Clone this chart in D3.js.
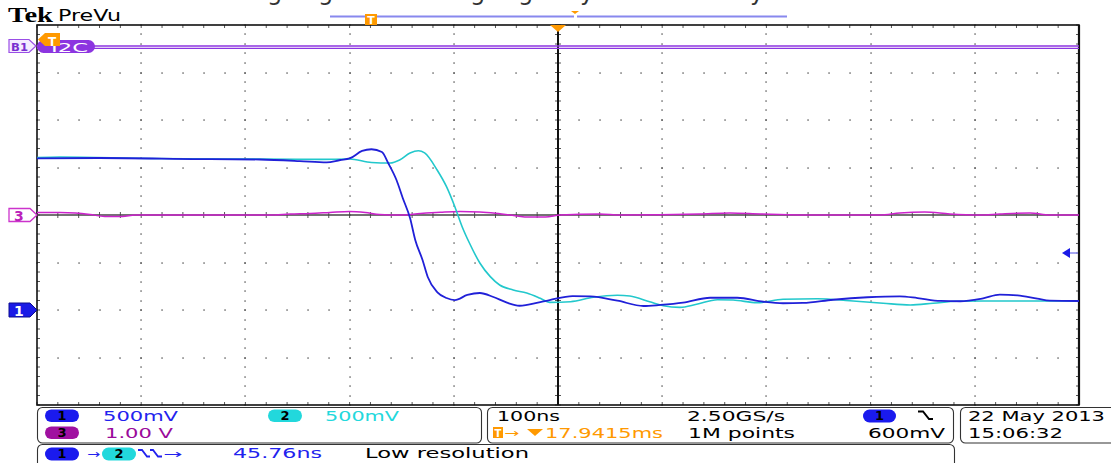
<!DOCTYPE html>
<html><head><meta charset="utf-8">
<script src="https://cdn.jsdelivr.net/npm/d3@7"></script>
<style>html,body{margin:0;padding:0;background:#fff;overflow:hidden}svg{display:block}</style>
</head><body>
<svg id="c" width="1111" height="463"></svg>
<script>
// ---------------- data ----------------
const ch1Time = [-500,-440,-344,-286,-248,-222,-209,-200,-188,-179,-169,-163,-155,-149,-142,-137,-130,-125,-116,-107,-99,-87,-75,-62,-49,-37,-17,-8,14,31,57,82,98,120,146,172,197,216,235,264,297,328,345,367,386,408,424,441,460,472,500];
const ch1Volts = [1.595,1.600,1.589,1.584,1.568,1.553,1.579,1.595,1.674,1.692,1.663,1.547,1.368,1.179,0.968,0.737,0.526,0.347,0.189,0.126,0.105,0.158,0.179,0.137,0.077,0.045,0.084,0.105,0.147,0.144,0.098,0.042,0.053,0.077,0.129,0.129,0.087,0.071,0.074,0.108,0.134,0.144,0.126,0.095,0.092,0.123,0.161,0.155,0.119,0.098,0.095];
const ch2Time = [-500,-478,-392,-296,-228,-200,-179,-161,-152,-142,-134,-128,-116,-107,-99,-92,-85,-75,-65,-56,-43,-30,-17,-8,12,34,57,69,88,101,117,133,153,168,191,216,249,280,312,338,360,383,408,472,500];
const ch2Volts = [1.605,1.611,1.595,1.589,1.586,1.589,1.553,1.547,1.579,1.653,1.677,1.653,1.474,1.298,1.087,0.877,0.705,0.495,0.351,0.263,0.211,0.179,0.123,0.080,0.087,0.134,0.155,0.147,0.087,0.045,0.028,0.060,0.108,0.105,0.077,0.113,0.119,0.098,0.071,0.053,0.071,0.092,0.095,0.095,0.095];
const ch3Time = [-500,-478,-463,-449,-435,-418,-406,-344,-276,-257,-238,-219,-200,-185,-171,-152,-132,-113,-94,-75,-60,-46,-32,-12,2,40,60,136,165,194,232,309,328,352,376,405,424,453,472,500];
const ch3Volts = [0.053,0.053,0.042,0.011,-0.032,-0.032,0,0,0,0.021,0.032,0.053,0.074,0.053,0.011,0,0.032,0.057,0.074,0.063,0.036,0,-0.042,-0.042,0,0.021,0,0.021,0.042,0.021,0,0,0.042,0.063,0.021,0,0.021,0.042,0,0];

const timeDomain = [-500, 500];      // ns (100 ns/div)
const divDomainX = [-5, 5];
const divDomainY = [-4, 4];
const ch1Scale = 0.5, ch1Offset = -2;  // V/div, position (div)
const ch2Scale = 0.5, ch2Offset = -2;
const ch3Scale = 1.0, ch3Offset = 0;
const trigLevel = 0.6;                // V on ch1

const header = ["Tek", "PreVu"];
const captionGlyphs = ["g","g","g","g","y","y"];
const captionX = [267, 318, 470, 518, 580, 750];

// ---------------- layout ----------------
const svg = d3.select("#c");
const L = 37, R = 1079, T = 25, B = 405;
const xd = d3.scaleLinear().domain(divDomainX).range([L, R]);
const yd = d3.scaleLinear().domain(divDomainY).range([B, T]);
const xt = d3.scaleLinear().domain(timeDomain).range([L, R]);
const FONT = "'DejaVu Sans', Verdana, sans-serif";

function txt(x, y, s, o = {}) {
  const t = svg.append("text").attr("x", x).attr("y", y).text(s)
    .attr("font-family", o.family || FONT)
    .attr("font-size", o.size || 14)
    .attr("fill", o.fill || "#000")
    .attr("font-weight", o.weight || "normal");
  if (o.len) t.attr("textLength", o.len).attr("lengthAdjust", "spacingAndGlyphs");
  if (o.anchor) t.attr("text-anchor", o.anchor);
  return t;
}

// caption descenders at top (cut off)
captionGlyphs.forEach((g, i) => txt(captionX[i], 0, g, {size: 24, fill: "#333"}));

// header
txt(8, 22, header[0], {size: 20, weight: "bold", family: "'Liberation Serif', serif", len: 45});
txt(58, 21, header[1], {size: 15, len: 63});

// ---------------- graticule ----------------
const grid = svg.append("g");
const minorX = d3.range(-5, 5.0001, 0.2);
const minorY = d3.range(-4, 4.0001, 0.2);
[-4,-3,-2,-1,1,2,3,4].forEach(d => {
  minorY.forEach(m => grid.append("rect").attr("x", Math.round(xd(d)) - 0.6).attr("y", Math.round(yd(m)) - 0.6)
    .attr("width", 1.3).attr("height", 1.3).attr("fill", "#444"));
});
[-3,-2,-1,1,2,3].forEach(d => {
  minorX.forEach(m => grid.append("rect").attr("x", Math.round(xd(m)) - 0.6).attr("y", Math.round(yd(d)) - 0.6)
    .attr("width", 1.3).attr("height", 1.3).attr("fill", "#444"));
});
minorX.forEach(m => {
  const x = xd(m);
  grid.append("line").attr("x1", x).attr("x2", x).attr("y1", yd(0) - 3).attr("y2", yd(0) + 3).attr("stroke", "#555").attr("stroke-width", 1);
  grid.append("line").attr("x1", x).attr("x2", x).attr("y1", T).attr("y2", T + 3).attr("stroke", "#555").attr("stroke-width", 1);
  grid.append("line").attr("x1", x).attr("x2", x).attr("y1", B - 3).attr("y2", B).attr("stroke", "#555").attr("stroke-width", 1);
});
minorY.forEach(m => {
  const y = yd(m);
  grid.append("line").attr("x1", xd(0) - 3).attr("x2", xd(0) + 3).attr("y1", y).attr("y2", y).attr("stroke", "#555").attr("stroke-width", 1);
  grid.append("line").attr("x1", L).attr("x2", L + 3).attr("y1", y).attr("y2", y).attr("stroke", "#555").attr("stroke-width", 1);
  grid.append("line").attr("x1", R - 3).attr("x2", R).attr("y1", y).attr("y2", y).attr("stroke", "#555").attr("stroke-width", 1);
});
grid.append("line").attr("x1", L).attr("x2", R).attr("y1", yd(0)).attr("y2", yd(0)).attr("stroke", "#444").attr("stroke-width", 1.4);
grid.append("line").attr("x1", xd(0)).attr("x2", xd(0)).attr("y1", T).attr("y2", B).attr("stroke", "#111").attr("stroke-width", 2);
grid.append("rect").attr("x", L).attr("y", T).attr("width", R - L).attr("height", B - T)
  .attr("fill", "none").attr("stroke", "#111").attr("stroke-width", 1.6);
grid.append("line").attr("x1", R).attr("x2", R).attr("y1", T).attr("y2", B).attr("stroke", "#111").attr("stroke-width", 2.2);

// ---------------- bus B1 ----------------
const busY = 47.2;
svg.append("line").attr("x1", L).attr("x2", R).attr("y1", busY - 1.2).attr("y2", busY - 1.2).attr("stroke", "#8c35e0").attr("stroke-width", 1.3);
svg.append("line").attr("x1", L).attr("x2", R).attr("y1", busY + 1.2).attr("y2", busY + 1.2).attr("stroke", "#8c35e0").attr("stroke-width", 1.3);
svg.append("rect").attr("x", 37).attr("y", 40).attr("width", 58).attr("height", 13).attr("rx", 6.5).attr("fill", "#8c35e0");
txt(51, 52, "I2C", {size: 13, fill: "#fff", len: 37});
svg.append("path").attr("d", "M9,39.5 H29 L36,46 L29,52.5 H9 Z").attr("fill", "#f4ecff").attr("stroke", "#9a4ee6").attr("stroke-width", 1.2);
txt(11, 50.5, "B1", {size: 11, fill: "#7a2fd0", weight: "bold", len: 17});
svg.append("path").attr("d", "M38,39.5 L45,33 H60 V46 H45 Z").attr("fill", "#ff9900");
txt(52, 45.5, "T", {size: 12, fill: "#fff", weight: "bold", anchor: "middle"});

// ---------------- top record bar ----------------
svg.append("line").attr("x1", 330).attr("x2", 574).attr("y1", 16.5).attr("y2", 16.5).attr("stroke", "#8888ee").attr("stroke-width", 2);
svg.append("line").attr("x1", 577).attr("x2", 787).attr("y1", 16.5).attr("y2", 16.5).attr("stroke", "#8888ee").attr("stroke-width", 2);
svg.append("rect").attr("x", 365).attr("y", 14).attr("width", 12).attr("height", 11).attr("fill", "#ff9900");
txt(371, 23.5, "T", {size: 11, fill: "#fff", weight: "bold", anchor: "middle"});
svg.append("path").attr("d", "M571,11 H579 L575,14 Z").attr("fill", "#ff9900");
svg.append("path").attr("d", `M${xt(0)-8},25 H${xt(0)+8} L${xt(0)},32 Z`).attr("fill", "#ff9900");

// ---------------- traces ----------------
const clip = svg.append("clipPath").attr("id", "pc");
clip.append("rect").attr("x", L).attr("y", T).attr("width", R - L).attr("height", B - T);
const traces = svg.append("g").attr("clip-path", "url(#pc)");
function chY(v, scale, off) { return yd(v / scale + off); }
function drawTrace(ts, vs, scale, off, color, w) {
  const pts = ts.map((t, i) => [xt(t), chY(vs[i], scale, off)]);
  traces.append("path").attr("d", d3.line().curve(d3.curveMonotoneX)(pts))
    .attr("fill", "none").attr("stroke", color).attr("stroke-width", w).attr("stroke-linejoin", "round");
}
drawTrace(ch3Time, ch3Volts, ch3Scale, ch3Offset, "#cc22cc", 1.5);
drawTrace(ch2Time, ch2Volts, ch2Scale, ch2Offset, "#22c8cc", 1.6);
drawTrace(ch1Time, ch1Volts, ch1Scale, ch1Offset, "#2020d8", 1.8);

const y3 = chY(0, ch3Scale, ch3Offset), y1 = chY(0, ch1Scale, ch1Offset);
svg.append("path").attr("d", `M9,${y3-6.5} H30 L37,${y3} L30,${y3+6.5} H9 Z`).attr("fill", "#fff").attr("stroke", "#cc33cc").attr("stroke-width", 1.3);
txt(14, y3 + 5.5, "3", {size: 14, fill: "#bb22bb", weight: "bold"});
svg.append("path").attr("d", `M9,${y1-7} H30 L37,${y1} L30,${y1+7} H9 Z`).attr("fill", "#1a1ae6").attr("stroke", "#0c0c90").attr("stroke-width", 1);
txt(14, y1 + 5.5, "1", {size: 14, fill: "#fff", weight: "bold"});
const yt = chY(trigLevel, ch1Scale, ch1Offset);
svg.append("line").attr("x1", 1068).attr("x2", R - 1).attr("y1", yt).attr("y2", yt).attr("stroke", "#8888ee").attr("stroke-width", 1.5);
svg.append("path").attr("d", `M1062,${yt} L1070,${yt-5} V${yt+5} Z`).attr("fill", "#1a1ae6");

// ---------------- status bar ----------------
function box(x, y, w, h) {
  svg.append("rect").attr("x", x).attr("y", y).attr("width", w).attr("height", h).attr("rx", 5)
    .attr("fill", "none").attr("stroke", "#333").attr("stroke-width", 1.1);
}
box(37.5, 407.5, 444, 35.5);
box(487.5, 407.5, 466, 35.5);
box(960.5, 407.5, 160, 35.5);
box(37.5, 444.5, 917, 30);

function pill(x, y, w, h, fill, label) {
  svg.append("rect").attr("x", x).attr("y", y).attr("width", w).attr("height", h).attr("rx", h / 2).attr("fill", fill);
  txt(x + w / 2, y + h - 2.5, label, {size: 13, fill: "#000", weight: "bold", anchor: "middle"});
}
const BLUE = "#2222ee", CYAN = "#22d8dc", PURP = "#9a0a9a", ORNG = "#ff9900";
pill(45, 409.5, 34, 12.5, "#1a1aee", "1");
txt(103, 420.5, "500mV", {fill: BLUE, len: 75});
pill(268, 409.5, 34, 12.5, CYAN, "2");
txt(325, 420.5, "500mV", {fill: CYAN, len: 74});
pill(45, 426.5, 34, 12.5, "#a010a0", "3");
txt(105, 437.5, "1.00 V", {fill: PURP, len: 68});
txt(497, 420.5, "100ns", {len: 63});
txt(687, 420.5, "2.50GS/s", {len: 98});
pill(863, 409.5, 33, 13, "#1a1aee", "1");
svg.append("path").attr("d", "M918,411.5 H923 L929,419 H933").attr("fill", "none").attr("stroke", "#000").attr("stroke-width", 2);
svg.append("rect").attr("x", 493).attr("y", 427).attr("width", 10).attr("height", 11).attr("fill", ORNG);
txt(498, 436.5, "T", {size: 10, fill: "#fff", weight: "bold", anchor: "middle"});
txt(504, 436.5, "→", {size: 12, fill: ORNG, len: 15});
svg.append("path").attr("d", "M527,429 H543 L535,436 Z").attr("fill", ORNG);
txt(545, 437.5, "17.9415ms", {fill: ORNG, len: 118});
txt(688, 437.5, "1M points", {len: 107});
txt(868, 437.5, "600mV", {len: 77});
txt(968, 420.5, "22 May 2013", {len: 137});
txt(968, 437.5, "15:06:32", {len: 95});
pill(45, 447.5, 34, 13, "#1a1aee", "1");
txt(87, 457.5, "→", {size: 12, fill: BLUE, len: 13});
pill(102, 447.5, 34, 13, CYAN, "2");
svg.append("path").attr("d", "M138,450 H142 L147,456.5 H150 M150,450 H153 L158,456.5 H162").attr("fill", "none").attr("stroke", BLUE).attr("stroke-width", 1.8);
txt(163, 457.5, "→", {size: 12, fill: BLUE, len: 19});
txt(233, 458, "45.76ns", {fill: BLUE, len: 89});
txt(365, 458, "Low resolution", {len: 164});
</script>
</body></html>
